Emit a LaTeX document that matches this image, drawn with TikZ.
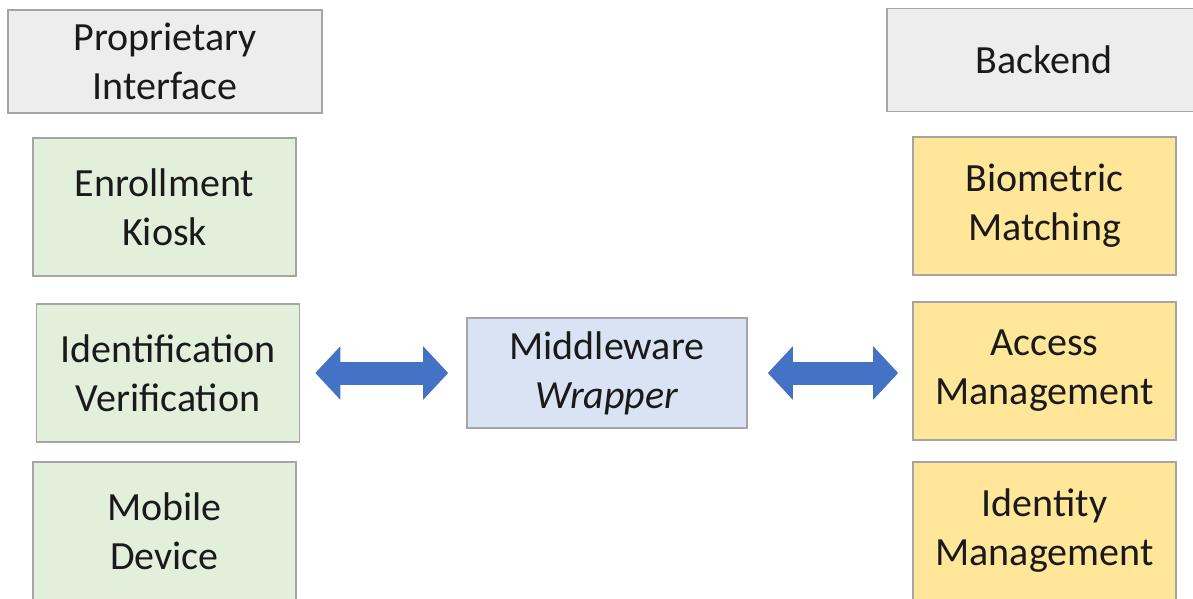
\documentclass[tikz,border=0pt]{standalone}
\usepackage{fontspec}
\setmainfont{Carlito}
\usetikzlibrary{arrows.meta}
\definecolor{headfill}{HTML}{EDEDED}
\definecolor{clientfill}{HTML}{E2EFDA}
\definecolor{midfill}{HTML}{DAE3F3}
\definecolor{backfill}{HTML}{FFE699}
\definecolor{edgegray}{HTML}{A5A5A5}
\definecolor{arrowblue}{HTML}{4472C4}
\definecolor{ink}{HTML}{1A1A1A}
\tikzset{
  box/.style={draw=edgegray, line width=1.6pt, align=center, inner sep=0pt,
    text=ink, font=\fontsize{40}{49}\selectfont},
  header/.style={box, fill=headfill, minimum width=314pt, minimum height=103pt},
  client/.style={box, fill=clientfill, minimum width=263pt, minimum height=138pt},
  service/.style={box, fill=backfill, minimum width=263pt, minimum height=138pt},
  middle/.style={box, fill=midfill, minimum width=280pt, minimum height=110pt},
  dblarrow/.style={draw=arrowblue, line width=23pt,
    {Triangle[length=25pt,width=52pt]}-{Triangle[length=25pt,width=52pt]}},
}
\begin{document}
\begin{tikzpicture}[x=1pt,y=-1pt]
  \useasboundingbox (0,0) rectangle (1193,599);
  \clip (0,0) rectangle (1193,599);
  % left column: interfaces
  \node[header]  (pi)  at (165,61.5) {Proprietary\\Interface};
  \node[client]  (ek)  at (164.5,207) {Enrollment\\Kiosk};
  \node[client]  (iv)  at (168,373) {Identification\\Verification};
  \node[client]  (md)  at (164.5,531) {Mobile\\Device};
  % centre
  \node[middle]  (mw)  at (607,373) {Middleware\\\textit{Wrapper}};
  % right column: backend services
  \node[header]  (be)  at (1044,60) {Backend};
  \node[service] (bm)  at (1044.5,206) {Biometric\\Matching};
  \node[service] (am)  at (1044.5,371) {Access\\Management};
  \node[service] (im)  at (1044.5,531) {Identity\\Management};
  % connectors
  \draw[dblarrow, shorten <=15pt, shorten >=18pt] (iv.east) -- (mw.west);
  \draw[dblarrow, shorten <=20pt, shorten >=14pt] (mw.east) -- (mw.east -| am.west);
\end{tikzpicture}
\end{document}
